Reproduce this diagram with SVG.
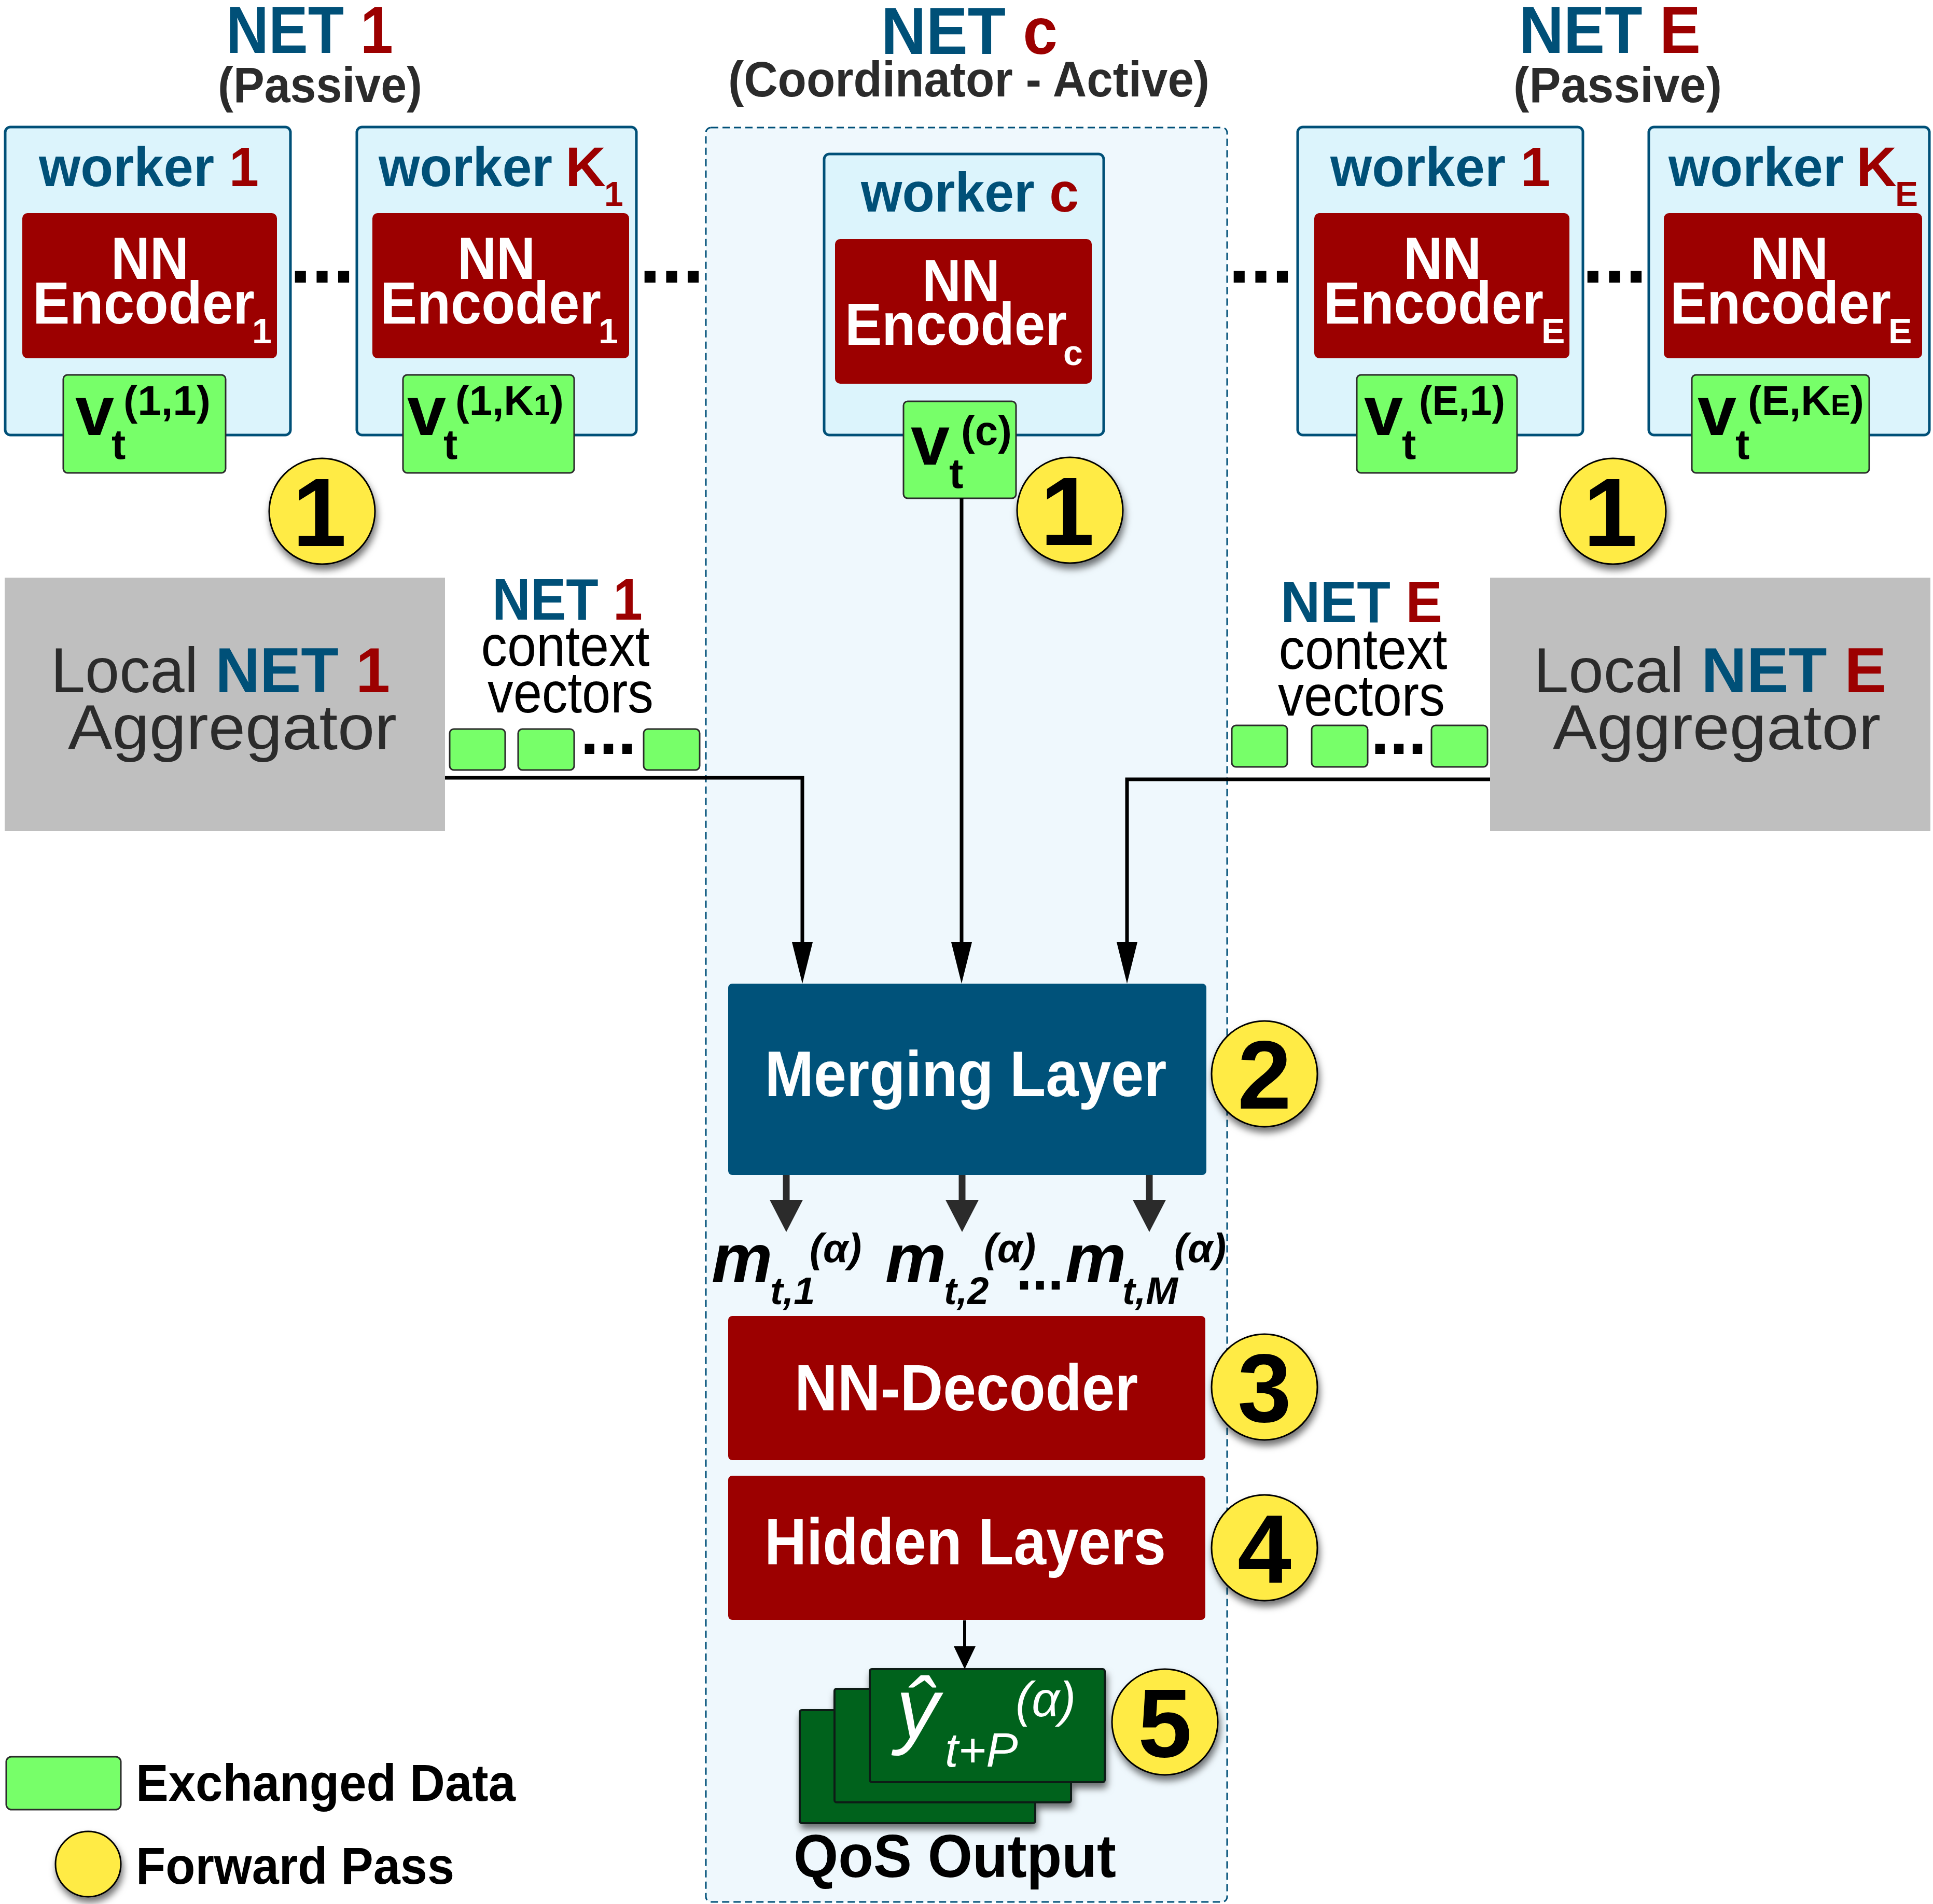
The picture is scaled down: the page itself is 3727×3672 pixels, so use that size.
<svg xmlns="http://www.w3.org/2000/svg" width="3727" height="3672" viewBox="0 0 3727 3672">
<style>
text{font-family:"Liberation Sans",Arial,sans-serif}
.b{font-weight:bold}
.i{font-style:italic}
.blue{fill:#005078}
.red{fill:#9c0000}
.gray{fill:#2b2b2b}
.wh{fill:#ffffff}
.bk{fill:#000000}
.worker{fill:#dcf4fc;stroke:#005078;stroke-width:5}
.nn{fill:#9c0000}
.vec{fill:#77ff69;stroke:#2b2b2b;stroke-width:3}
.badge{fill:#ffeb45;stroke:#000;stroke-width:3}
.agg{fill:#bfbfbf}
.card{fill:#04621e;stroke:#0d1f14;stroke-width:4}
.num{font-size:187px;font-weight:bold;fill:#000;text-anchor:middle}
.mid{text-anchor:middle}
.conn{fill:none;stroke:#000;stroke-width:7}
</style>
<defs>
<filter id="sh" x="-40%" y="-40%" width="180%" height="190%">
<feDropShadow dx="3" dy="10" stdDeviation="7" flood-color="#000" flood-opacity="0.55"/>
</filter>
<marker id="ah1" markerUnits="userSpaceOnUse" markerWidth="80" markerHeight="40" refX="0" refY="20" orient="auto" viewBox="0 0 80 40"><path d="M0,0 L80,20 L0,40 z" fill="#000"/></marker>
<marker id="ah2" markerUnits="userSpaceOnUse" markerWidth="62" markerHeight="64" refX="0" refY="32" orient="auto" viewBox="0 0 62 64"><path d="M0,0 L62,32 L0,64 z" fill="#2b2b2b"/></marker>
<marker id="ah3" markerUnits="userSpaceOnUse" markerWidth="44" markerHeight="42" refX="0" refY="21" orient="auto" viewBox="0 0 44 42"><path d="M0,0 L44,21 L0,42 z" fill="#000"/></marker>
</defs>
<rect width="3727" height="3672" fill="#ffffff"/>

<g id="coordinator-area">
<rect x="1361" y="246" width="1005" height="3422" rx="10" fill="#eff8fd" stroke="#005078" stroke-width="3" stroke-dasharray="14 8"/>
</g>

<g id="titles">
<text x="597" y="102" font-size="128" class="b mid" textLength="322" lengthAdjust="spacingAndGlyphs"><tspan class="blue">NET </tspan><tspan class="red">1</tspan></text>
<text x="617" y="197" font-size="96" class="b mid gray" textLength="394" lengthAdjust="spacingAndGlyphs">(Passive)</text>
<text x="1869" y="104" font-size="128" class="b mid" textLength="340" lengthAdjust="spacingAndGlyphs"><tspan class="blue">NET </tspan><tspan class="red">c</tspan></text>
<text x="1868" y="186" font-size="96" class="b mid gray" textLength="928" lengthAdjust="spacingAndGlyphs">(Coordinator - Active)</text>
<text x="3104" y="102" font-size="128" class="b mid" textLength="350" lengthAdjust="spacingAndGlyphs"><tspan class="blue">NET </tspan><tspan class="red">E</tspan></text>
<text x="3119" y="197" font-size="96" class="b mid gray" textLength="402" lengthAdjust="spacingAndGlyphs">(Passive)</text>
</g>

<g id="worker-net1-1">
<rect class="worker" x="10" y="245" width="550" height="594" rx="10"/>
<text x="287" y="359" font-size="108" class="b mid" textLength="424" lengthAdjust="spacingAndGlyphs"><tspan class="blue">worker </tspan><tspan class="red">1</tspan></text>
<rect class="nn" x="43" y="411" width="491" height="280" rx="10"/>
<text font-size="115" class="b wh"><tspan x="289" y="538" text-anchor="middle" textLength="150" lengthAdjust="spacingAndGlyphs">NN</tspan><tspan x="63" y="624" textLength="428" lengthAdjust="spacingAndGlyphs">Encoder</tspan><tspan x="486" y="662" font-size="68">1</tspan></text>
<rect class="vec" x="122" y="723" width="313" height="189" rx="8"/>
<text class="b bk" font-size="135"><tspan x="145" y="839">v</tspan><tspan x="215" y="885" font-size="82">t</tspan><tspan x="238" y="800" font-size="80" textLength="168" lengthAdjust="spacingAndGlyphs">(1,1)</tspan></text>
</g>

<g id="worker-net1-k1">
<rect class="worker" x="688" y="245" width="539" height="594" rx="10"/>
<text font-size="108" class="b"><tspan x="730" y="359" class="blue" textLength="335" lengthAdjust="spacingAndGlyphs">worker</tspan><tspan x="1090" y="359" class="red">K</tspan><tspan x="1165" y="397" font-size="66" class="red">1</tspan></text>
<rect class="nn" x="718" y="411" width="495" height="280" rx="10"/>
<text font-size="115" class="b wh"><tspan x="957" y="538" text-anchor="middle" textLength="150" lengthAdjust="spacingAndGlyphs">NN</tspan><tspan x="733" y="624" textLength="426" lengthAdjust="spacingAndGlyphs">Encoder</tspan><tspan x="1154" y="662" font-size="68">1</tspan></text>
<rect class="vec" x="777" y="723" width="330" height="189" rx="8"/>
<text class="b bk" font-size="135"><tspan x="785" y="839">v</tspan><tspan x="855" y="885" font-size="82">t</tspan><tspan x="878" y="800" font-size="80">(1,K</tspan><tspan font-size="56">1</tspan><tspan font-size="80">)</tspan></text>
</g>

<g id="worker-netc">
<rect class="worker" x="1589" y="297" width="539" height="542" rx="10"/>
<text x="1870" y="408" font-size="108" class="b mid" textLength="420" lengthAdjust="spacingAndGlyphs"><tspan class="blue">worker </tspan><tspan class="red">c</tspan></text>
<rect class="nn" x="1610" y="461" width="495" height="279" rx="10"/>
<text font-size="115" class="b wh"><tspan x="1853" y="581" text-anchor="middle" textLength="150" lengthAdjust="spacingAndGlyphs">NN</tspan><tspan x="1629" y="665" textLength="428" lengthAdjust="spacingAndGlyphs">Encoder</tspan><tspan x="2050" y="704" font-size="68">c</tspan></text>
<rect class="vec" x="1742" y="774" width="217" height="187" rx="8"/>
<text class="b bk" font-size="135"><tspan x="1756" y="896">v</tspan><tspan x="1830" y="941" font-size="82">t</tspan><tspan x="1853" y="858" font-size="80">(c)</tspan></text>
</g>

<g id="worker-nete-1">
<rect class="worker" x="2502" y="245" width="550" height="594" rx="10"/>
<text x="2777" y="359" font-size="108" class="b mid" textLength="424" lengthAdjust="spacingAndGlyphs"><tspan class="blue">worker </tspan><tspan class="red">1</tspan></text>
<rect class="nn" x="2534" y="411" width="492" height="280" rx="10"/>
<text font-size="115" class="b wh"><tspan x="2781" y="538" text-anchor="middle" textLength="150" lengthAdjust="spacingAndGlyphs">NN</tspan><tspan x="2552" y="624" textLength="424" lengthAdjust="spacingAndGlyphs">Encoder</tspan><tspan x="2972" y="662" font-size="68">E</tspan></text>
<rect class="vec" x="2616" y="723" width="309" height="189" rx="8"/>
<text class="b bk" font-size="135"><tspan x="2630" y="839">v</tspan><tspan x="2703" y="885" font-size="82">t</tspan><tspan x="2736" y="800" font-size="80" textLength="166" lengthAdjust="spacingAndGlyphs">(E,1)</tspan></text>
</g>

<g id="worker-nete-ke">
<rect class="worker" x="3179" y="245" width="541" height="594" rx="10"/>
<text font-size="108" class="b"><tspan x="3217" y="359" class="blue" textLength="338" lengthAdjust="spacingAndGlyphs">worker</tspan><tspan x="3579" y="359" class="red">K</tspan><tspan x="3654" y="397" font-size="66" class="red">E</tspan></text>
<rect class="nn" x="3208" y="411" width="498" height="280" rx="10"/>
<text font-size="115" class="b wh"><tspan x="3450" y="538" text-anchor="middle" textLength="150" lengthAdjust="spacingAndGlyphs">NN</tspan><tspan x="3220" y="624" textLength="426" lengthAdjust="spacingAndGlyphs">Encoder</tspan><tspan x="3641" y="662" font-size="68">E</tspan></text>
<rect class="vec" x="3262" y="723" width="342" height="189" rx="8"/>
<text class="b bk" font-size="135"><tspan x="3273" y="839">v</tspan><tspan x="3346" y="885" font-size="82">t</tspan><tspan x="3370" y="800" font-size="80">(E,K</tspan><tspan font-size="56">E</tspan><tspan font-size="80">)</tspan></text>
</g>

<g id="ellipsis-workers">
<text x="621" y="545" font-size="150" class="b mid bk">...</text>
<text x="1295" y="545" font-size="150" class="b mid bk">...</text>
<text x="2431" y="545" font-size="150" class="b mid bk">...</text>
<text x="3113" y="545" font-size="150" class="b mid bk">...</text>
</g>

<g id="aggregator-net1">
<rect class="agg" x="9" y="1114" width="849" height="489"/>
<text font-size="122" class="mid"><tspan x="425" y="1335" textLength="654" lengthAdjust="spacingAndGlyphs"><tspan class="gray">Local </tspan><tspan class="b blue">NET </tspan><tspan class="b red">1</tspan></tspan><tspan x="448" y="1445" class="gray" textLength="634" lengthAdjust="spacingAndGlyphs">Aggregator</tspan></text>
</g>

<g id="context-net1">
<text font-size="112" class="mid"><tspan x="1094" y="1195" class="b" font-size="113" textLength="290" lengthAdjust="spacingAndGlyphs"><tspan class="blue">NET </tspan><tspan class="red">1</tspan></tspan><tspan x="1090" y="1284" class="bk" textLength="325" lengthAdjust="spacingAndGlyphs">context</tspan><tspan x="1100" y="1374" class="bk" textLength="320" lengthAdjust="spacingAndGlyphs">vectors</tspan></text>
<rect class="vec" x="867" y="1406" width="107" height="79" rx="8"/>
<rect class="vec" x="999" y="1406" width="108" height="79" rx="8"/>
<rect class="vec" x="1241" y="1406" width="108" height="79" rx="8"/>
<text x="1173" y="1454" font-size="130" class="b mid bk">...</text>
</g>

<g id="aggregator-nete">
<rect class="agg" x="2873" y="1114" width="849" height="489"/>
<text font-size="122" class="mid"><tspan x="3297" y="1335" textLength="680" lengthAdjust="spacingAndGlyphs"><tspan class="gray">Local </tspan><tspan class="b blue">NET </tspan><tspan class="b red">E</tspan></tspan><tspan x="3310" y="1445" class="gray" textLength="632" lengthAdjust="spacingAndGlyphs">Aggregator</tspan></text>
</g>

<g id="context-nete">
<text font-size="112" class="mid"><tspan x="2625" y="1200" class="b" font-size="113" textLength="312" lengthAdjust="spacingAndGlyphs"><tspan class="blue">NET </tspan><tspan class="red">E</tspan></tspan><tspan x="2628" y="1290" class="bk" textLength="325" lengthAdjust="spacingAndGlyphs">context</tspan><tspan x="2625" y="1380" class="bk" textLength="322" lengthAdjust="spacingAndGlyphs">vectors</tspan></text>
<rect class="vec" x="2375" y="1399" width="107" height="80" rx="8"/>
<rect class="vec" x="2529" y="1399" width="108" height="80" rx="8"/>
<rect class="vec" x="2760" y="1399" width="108" height="80" rx="8"/>
<text x="2697" y="1454" font-size="130" class="b mid bk">...</text>
</g>

<g id="merging-layer">
<rect x="1404" y="1897" width="922" height="369" rx="8" fill="#00527a"/>
<text x="1862" y="2114" font-size="125" class="b mid wh" textLength="775" lengthAdjust="spacingAndGlyphs">Merging Layer</text>
</g>

<g id="m-labels">
<text class="b i bk" font-size="132"><tspan x="1372" y="2472">m</tspan><tspan x="1485" y="2515" font-size="74">t,1</tspan><tspan x="1561" y="2434" font-size="78">(α)</tspan></text>
<text class="b i bk" font-size="132"><tspan x="1707" y="2472">m</tspan><tspan x="1820" y="2515" font-size="74">t,2</tspan><tspan x="1897" y="2434" font-size="78">(α)</tspan></text>
<text x="2005" y="2487" font-size="110" class="b mid bk">...</text>
<text class="b i bk" font-size="132"><tspan x="2054" y="2472">m</tspan><tspan x="2164" y="2515" font-size="74">t,M</tspan><tspan x="2264" y="2434" font-size="78">(α)</tspan></text>
</g>

<g id="nn-decoder">
<rect class="nn" x="1404" y="2538" width="920" height="278" rx="8"/>
<text x="1863" y="2720" font-size="127" class="b mid wh" textLength="662" lengthAdjust="spacingAndGlyphs">NN-Decoder</text>
</g>

<g id="hidden-layers">
<rect class="nn" x="1404" y="2846" width="920" height="278" rx="8"/>
<text x="1861" y="3017" font-size="127" class="b mid wh" textLength="774" lengthAdjust="spacingAndGlyphs">Hidden Layers</text>
</g>

<g id="qos-output">
<g filter="url(#sh)">
<rect class="card" x="1542" y="3298" width="454" height="218" rx="4"/>
<rect class="card" x="1609" y="3257" width="456" height="219" rx="4"/>
<rect class="card" x="1677" y="3219" width="453" height="218" rx="4"/>
</g>
<text class="i wh" font-size="165"><tspan x="1728" y="3352">ŷ</tspan><tspan x="1822" y="3407" font-size="92">t+P</tspan><tspan x="1958" y="3310" font-size="94">(α)</tspan></text>
<text x="1841" y="3620" font-size="116" class="b mid bk" textLength="622" lengthAdjust="spacingAndGlyphs">QoS Output</text>
</g>

<g id="badges">
<g id="badge-1-net1"><circle class="badge" cx="621" cy="986" r="102" filter="url(#sh)"/><text class="num" x="616" y="1053">1</text></g>
<g id="badge-1-netc"><circle class="badge" cx="2063" cy="984" r="102" filter="url(#sh)"/><text class="num" x="2058" y="1051">1</text></g>
<g id="badge-1-nete"><circle class="badge" cx="3110" cy="986" r="102" filter="url(#sh)"/><text class="num" x="3105" y="1053">1</text></g>
<g id="badge-2"><circle class="badge" cx="2438" cy="2071" r="102" filter="url(#sh)"/><text class="num" x="2438" y="2138">2</text></g>
<g id="badge-3"><circle class="badge" cx="2438" cy="2675" r="102" filter="url(#sh)"/><text class="num" x="2438" y="2742">3</text></g>
<g id="badge-4"><circle class="badge" cx="2438" cy="2985" r="102" filter="url(#sh)"/><text class="num" x="2438" y="3052">4</text></g>
<g id="badge-5"><circle class="badge" cx="2246" cy="3321" r="102" filter="url(#sh)"/><text class="num" x="2246" y="3388">5</text></g>
</g>

<g id="connectors">
<path class="conn" d="M858,1500 H1547 V1817" marker-end="url(#ah1)"/>
<path class="conn" d="M1854,961 V1817" marker-end="url(#ah1)"/>
<path class="conn" d="M2873,1503 H2173 V1817" marker-end="url(#ah1)"/>
<path d="M1516,2266 V2314" stroke="#2b2b2b" stroke-width="13" fill="none" marker-end="url(#ah2)"/>
<path d="M1855,2266 V2314" stroke="#2b2b2b" stroke-width="13" fill="none" marker-end="url(#ah2)"/>
<path d="M2216,2266 V2314" stroke="#2b2b2b" stroke-width="13" fill="none" marker-end="url(#ah2)"/>
<path d="M1860,3125 V3175" stroke="#000" stroke-width="6" fill="none" marker-end="url(#ah3)"/>
</g>

<g id="legend">
<rect class="vec" x="12" y="3388" width="221" height="102" rx="10"/>
<text x="262" y="3473" font-size="100" class="b bk" textLength="732" lengthAdjust="spacingAndGlyphs">Exchanged Data</text>
<circle class="badge" cx="170" cy="3595" r="63" filter="url(#sh)"/>
<text x="262" y="3633" font-size="100" class="b bk" textLength="614" lengthAdjust="spacingAndGlyphs">Forward Pass</text>
</g>
</svg>
